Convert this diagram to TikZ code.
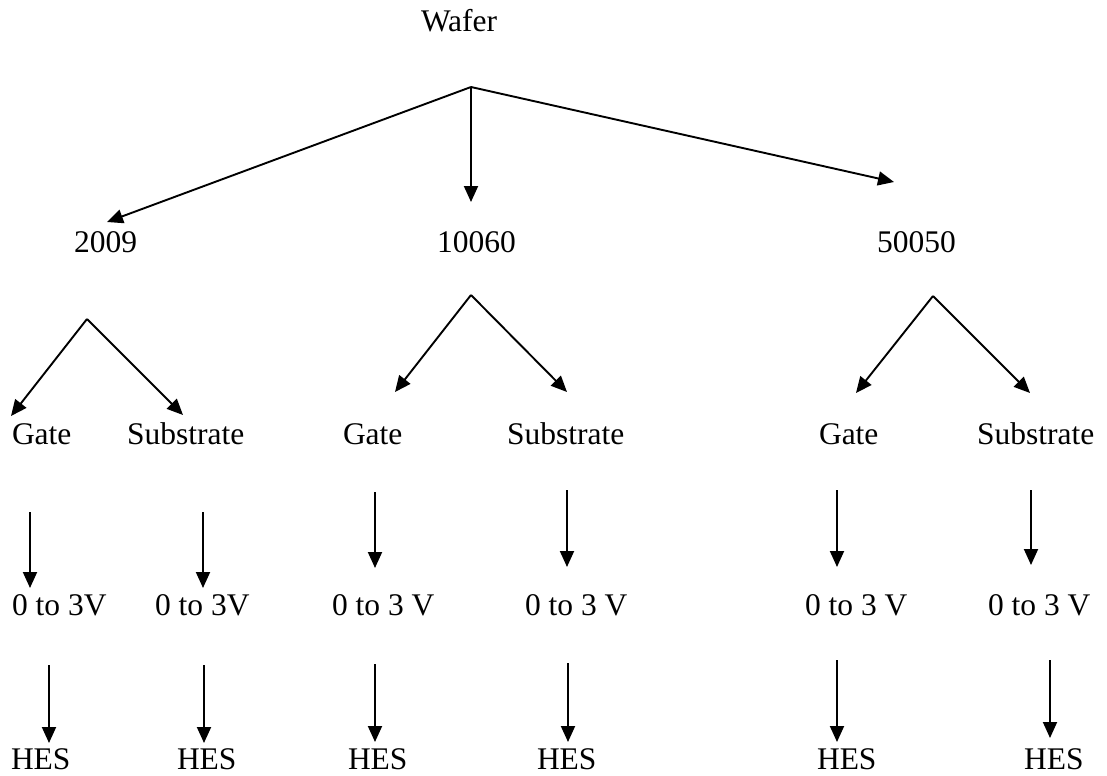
\documentclass[tikz,border=0pt]{standalone}
\usepackage{fontspec}
\setmainfont{Liberation Serif}
\usetikzlibrary{arrows.meta}
\tikzset{
  lbl/.style={anchor=base west, inner sep=0pt, outer sep=0pt, font=\fontsize{31.5bp}{36bp}\selectfont},
  arr/.style={line width=1.9bp, -{Triangle[length=16bp,width=14bp]}}
}
\begin{document}
\begin{tikzpicture}[x=1bp,y=-1bp]
\useasboundingbox (0,0) rectangle (1107,776);
% text nodes
\node[lbl] (wafer) at (421,32) {Wafer};
\node[lbl] (n2009) at (74,252) {2009};
\node[lbl] (n10060) at (437,252) {10060};
\node[lbl] (n50050) at (877,252) {50050};
\node[lbl] (gL) at (12,444) {Gate};
\node[lbl] (sL) at (127,444) {Substrate};
\node[lbl] (gM) at (343,444) {Gate};
\node[lbl] (sM) at (507,444) {Substrate};
\node[lbl] (gR) at (819,444) {Gate};
\node[lbl] (sR) at (977,444) {Substrate};
\node[lbl] (vL1) at (12,615) {0 to 3V};
\node[lbl] (vL2) at (155,615) {0 to 3V};
\node[lbl] (vM1) at (332,615) {0 to 3 V};
\node[lbl] (vM2) at (525,615) {0 to 3 V};
\node[lbl] (vR1) at (805,615) {0 to 3 V};
\node[lbl] (vR2) at (988,615) {0 to 3 V};
\node[lbl] (hL1) at (11,769) {HES};
\node[lbl] (hL2) at (177,769) {HES};
\node[lbl] (hM1) at (348,769) {HES};
\node[lbl] (hM2) at (537,769) {HES};
\node[lbl] (hR1) at (817,769) {HES};
\node[lbl] (hR2) at (1024,769) {HES};
% connector coordinates
\coordinate (a0) at (471,87);
\coordinate (t1) at (107,222);
\coordinate (t2) at (471,202);
\coordinate (t3) at (894,182);
\coordinate (aL) at (87,319);
\coordinate (tLL) at (11,416);
\coordinate (tLR) at (183,415);
\coordinate (aM) at (471,295);
\coordinate (tML) at (395,392);
\coordinate (tMR) at (567,392);
\coordinate (aR) at (933,296);
\coordinate (tRL) at (856,393);
\coordinate (tRR) at (1030,393);
\coordinate (p1s) at (30,512);   \coordinate (p1e) at (30,588);
\coordinate (p2s) at (203,512);  \coordinate (p2e) at (203,588);
\coordinate (p3s) at (375,492);  \coordinate (p3e) at (375,568);
\coordinate (p4s) at (567,490);  \coordinate (p4e) at (567,567);
\coordinate (p5s) at (837,490);  \coordinate (p5e) at (837,567);
\coordinate (p6s) at (1031,490); \coordinate (p6e) at (1031,565);
\coordinate (q1s) at (49,665);   \coordinate (q1e) at (49,743);
\coordinate (q2s) at (204,665);  \coordinate (q2e) at (204,743);
\coordinate (q3s) at (375,664);  \coordinate (q3e) at (375,742);
\coordinate (q4s) at (568,663);  \coordinate (q4e) at (568,742);
\coordinate (q5s) at (837,660);  \coordinate (q5e) at (837,742);
\coordinate (q6s) at (1050,660); \coordinate (q6e) at (1050,738);
% connectors
\draw[arr] (a0) -- (t1);
\draw[arr] (a0) -- (t2);
\draw[arr] (a0) -- (t3);
\draw[arr] (aL) -- (tLL);
\draw[arr] (aL) -- (tLR);
\draw[arr] (aM) -- (tML);
\draw[arr] (aM) -- (tMR);
\draw[arr] (aR) -- (tRL);
\draw[arr] (aR) -- (tRR);
\draw[arr] (p1s) -- (p1e);
\draw[arr] (p2s) -- (p2e);
\draw[arr] (p3s) -- (p3e);
\draw[arr] (p4s) -- (p4e);
\draw[arr] (p5s) -- (p5e);
\draw[arr] (p6s) -- (p6e);
\draw[arr] (q1s) -- (q1e);
\draw[arr] (q2s) -- (q2e);
\draw[arr] (q3s) -- (q3e);
\draw[arr] (q4s) -- (q4e);
\draw[arr] (q5s) -- (q5e);
\draw[arr] (q6s) -- (q6e);
\end{tikzpicture}
\end{document}
